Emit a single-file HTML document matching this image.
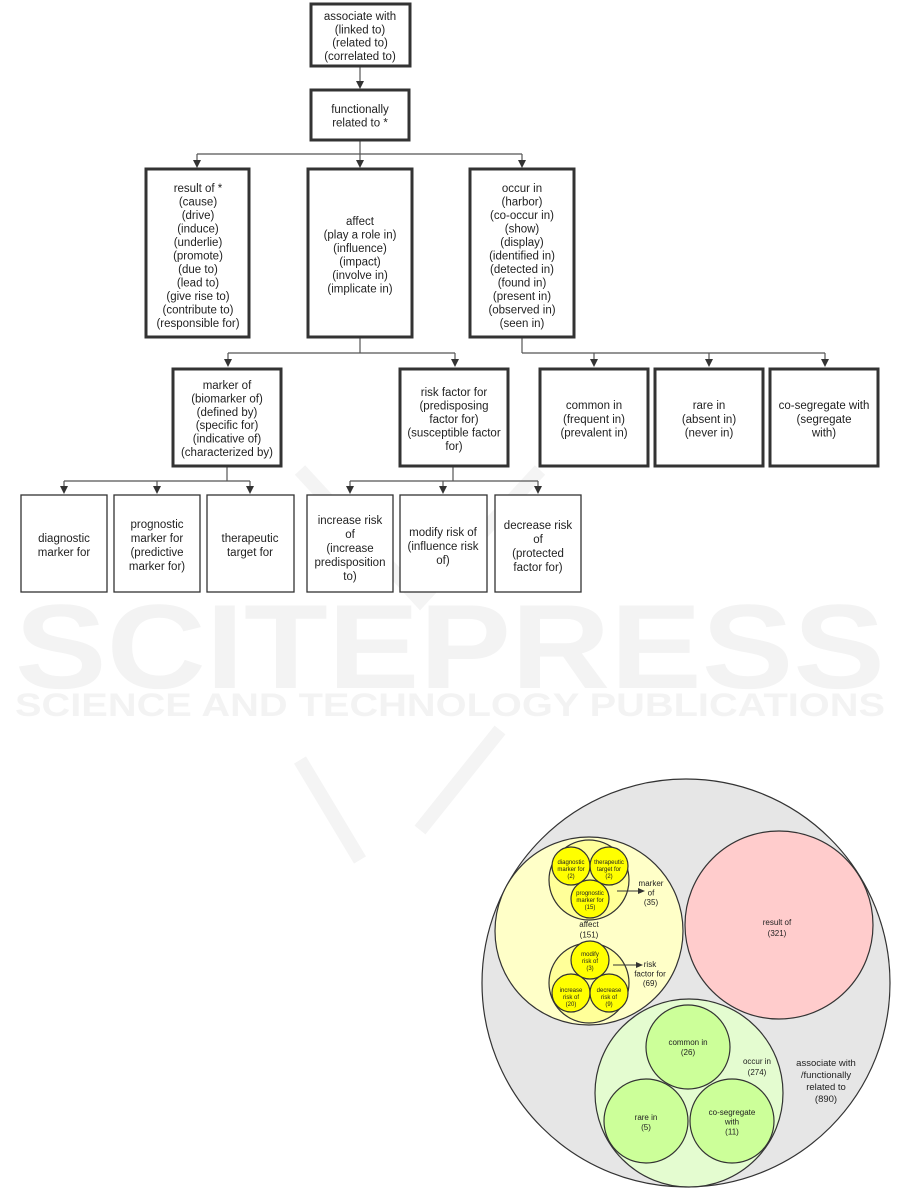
<!DOCTYPE html>
<html><head><meta charset="utf-8"><style>
html,body{margin:0;padding:0;background:#fff;}
svg{display:block;}
text{font-family:"Liberation Sans",sans-serif;fill:#222;}
</style></head><body>
<svg width="901" height="1191" viewBox="0 0 901 1191" xmlns="http://www.w3.org/2000/svg">

<!-- watermark -->
<g style="font-family:'Liberation Sans',sans-serif;font-weight:bold">
<text x="15" y="688" font-size="120" textLength="870" lengthAdjust="spacingAndGlyphs" style="fill:#f3f3f3">SCITEPRESS</text>
<text x="15" y="716" font-size="32" textLength="870" lengthAdjust="spacingAndGlyphs" style="fill:#f3f3f3">SCIENCE AND TECHNOLOGY PUBLICATIONS</text>
</g>
<path d="M300,470 L420,600 L540,470 M300,760 L360,860 M500,730 L420,830" stroke="#f4f4f4" stroke-width="14" fill="none"/>

<!-- connectors -->
<g stroke="#555" stroke-width="1.2" fill="none">
<line x1="360" y1="66" x2="360" y2="84"/>
<line x1="360" y1="140" x2="360" y2="154"/>
<line x1="197" y1="154" x2="522" y2="154"/>
<line x1="197" y1="154" x2="197" y2="162"/>
<line x1="360" y1="154" x2="360" y2="162"/>
<line x1="522" y1="154" x2="522" y2="162"/>
<line x1="360" y1="338" x2="360" y2="353"/>
<line x1="228" y1="353" x2="455" y2="353"/>
<line x1="228" y1="353" x2="228" y2="361"/>
<line x1="455" y1="353" x2="455" y2="361"/>
<line x1="522" y1="338" x2="522" y2="353"/>
<line x1="522" y1="353" x2="825" y2="353"/>
<line x1="594" y1="353" x2="594" y2="361"/>
<line x1="709" y1="353" x2="709" y2="361"/>
<line x1="825" y1="353" x2="825" y2="361"/>
<line x1="227" y1="467" x2="227" y2="481"/>
<line x1="64" y1="481" x2="250" y2="481"/>
<line x1="64" y1="481" x2="64" y2="488"/>
<line x1="157" y1="481" x2="157" y2="488"/>
<line x1="250" y1="481" x2="250" y2="488"/>
<line x1="453" y1="467" x2="453" y2="481"/>
<line x1="350" y1="481" x2="538" y2="481"/>
<line x1="350" y1="481" x2="350" y2="488"/>
<line x1="443" y1="481" x2="443" y2="488"/>
<line x1="538" y1="481" x2="538" y2="488"/>
</g>
<g fill="#333">
<polygon points="356,81 364,81 360,89"/>
<polygon points="193,160 201,160 197,168"/>
<polygon points="356,160 364,160 360,168"/>
<polygon points="518,160 526,160 522,168"/>
<polygon points="224,359 232,359 228,367"/>
<polygon points="451,359 459,359 455,367"/>
<polygon points="590,359 598,359 594,367"/>
<polygon points="705,359 713,359 709,367"/>
<polygon points="821,359 829,359 825,367"/>
<polygon points="60,486 68,486 64,494"/>
<polygon points="153,486 161,486 157,494"/>
<polygon points="246,486 254,486 250,494"/>
<polygon points="346,486 354,486 350,494"/>
<polygon points="439,486 447,486 443,494"/>
<polygon points="534,486 542,486 538,494"/>
</g>

<!-- thick boxes -->
<g fill="#fff" stroke="#333" stroke-width="3">
<rect x="311" y="4" width="99" height="62"/>
<rect x="311" y="90" width="98" height="50"/>
<rect x="146" y="169" width="103" height="168"/>
<rect x="308" y="169" width="104" height="168"/>
<rect x="470" y="169" width="104" height="168"/>
<rect x="173" y="369" width="108" height="97"/>
<rect x="400" y="369" width="108" height="97"/>
<rect x="540" y="369" width="108" height="97"/>
<rect x="655" y="369" width="108" height="97"/>
<rect x="770" y="369" width="108" height="97"/>
</g>
<g fill="#fff" stroke="#333" stroke-width="1.3">
<rect x="21" y="495" width="86" height="97"/>
<rect x="114" y="495" width="86" height="97"/>
<rect x="207" y="495" width="87" height="97"/>
<rect x="307" y="495" width="86" height="97"/>
<rect x="400" y="495" width="87" height="97"/>
<rect x="495" y="495" width="86" height="97"/>
</g>

<g font-size="11.5" text-anchor="middle">
<text x="360" y="20">associate with<tspan x="360" dy="13.3">(linked to)</tspan><tspan x="360" dy="13.3">(related to)</tspan><tspan x="360" dy="13.3">(correlated to)</tspan></text>
<text x="360" y="113">functionally<tspan x="360" dy="13.5">related to *</tspan></text>
<text x="198" y="192">result of *<tspan x="198" dy="13.5">(cause)</tspan><tspan x="198" dy="13.5">(drive)</tspan><tspan x="198" dy="13.5">(induce)</tspan><tspan x="198" dy="13.5">(underlie)</tspan><tspan x="198" dy="13.5">(promote)</tspan><tspan x="198" dy="13.5">(due to)</tspan><tspan x="198" dy="13.5">(lead to)</tspan><tspan x="198" dy="13.5">(give rise to)</tspan><tspan x="198" dy="13.5">(contribute to)</tspan><tspan x="198" dy="13.5">(responsible for)</tspan></text>
<text x="360" y="225">affect<tspan x="360" dy="13.5">(play a role in)</tspan><tspan x="360" dy="13.5">(influence)</tspan><tspan x="360" dy="13.5">(impact)</tspan><tspan x="360" dy="13.5">(involve in)</tspan><tspan x="360" dy="13.5">(implicate in)</tspan></text>
<text x="522" y="192">occur in<tspan x="522" dy="13.5">(harbor)</tspan><tspan x="522" dy="13.5">(co-occur in)</tspan><tspan x="522" dy="13.5">(show)</tspan><tspan x="522" dy="13.5">(display)</tspan><tspan x="522" dy="13.5">(identified in)</tspan><tspan x="522" dy="13.5">(detected in)</tspan><tspan x="522" dy="13.5">(found in)</tspan><tspan x="522" dy="13.5">(present in)</tspan><tspan x="522" dy="13.5">(observed in)</tspan><tspan x="522" dy="13.5">(seen in)</tspan></text>
<text x="227" y="389">marker of<tspan x="227" dy="13.4">(biomarker of)</tspan><tspan x="227" dy="13.4">(defined by)</tspan><tspan x="227" dy="13.4">(specific for)</tspan><tspan x="227" dy="13.4">(indicative of)</tspan><tspan x="227" dy="13.4">(characterized by)</tspan></text>
<text x="454" y="396">risk factor for<tspan x="454" dy="13.5">(predisposing</tspan><tspan x="454" dy="13.5">factor for)</tspan><tspan x="454" dy="13.5">(susceptible factor</tspan><tspan x="454" dy="13.5">for)</tspan></text>
<text x="594" y="409">common in<tspan x="594" dy="13.8">(frequent in)</tspan><tspan x="594" dy="13.8">(prevalent in)</tspan></text>
<text x="709" y="409">rare in<tspan x="709" dy="13.8">(absent in)</tspan><tspan x="709" dy="13.8">(never in)</tspan></text>
<text x="824" y="409">co-segregate with<tspan x="824" dy="13.8">(segregate</tspan><tspan x="824" dy="13.8">with)</tspan></text>
<text x="64" y="542">diagnostic<tspan x="64" dy="14">marker for</tspan></text>
<text x="157" y="528">prognostic<tspan x="157" dy="14">marker for</tspan><tspan x="157" dy="14">(predictive</tspan><tspan x="157" dy="14">marker for)</tspan></text>
<text x="250" y="542">therapeutic<tspan x="250" dy="14">target for</tspan></text>
<text x="350" y="524">increase risk<tspan x="350" dy="14">of</tspan><tspan x="350" dy="14">(increase</tspan><tspan x="350" dy="14">predisposition</tspan><tspan x="350" dy="14">to)</tspan></text>
<text x="443" y="536">modify risk of<tspan x="443" dy="14">(influence risk</tspan><tspan x="443" dy="14">of)</tspan></text>
<text x="538" y="529">decrease risk<tspan x="538" dy="14">of</tspan><tspan x="538" dy="14">(protected</tspan><tspan x="538" dy="14">factor for)</tspan></text>
</g>

<!-- circle diagram -->
<g stroke="#333" stroke-width="1.2">
<circle cx="686" cy="983" r="204" fill="#e6e6e6"/>
<circle cx="589" cy="931" r="94" fill="#ffffc8"/>
<circle cx="779" cy="925" r="94" fill="#ffcccc"/>
<circle cx="689" cy="1093" r="94" fill="#e4fcd0"/>
<circle cx="589" cy="880" r="40" fill="#ffff99"/>
<circle cx="589" cy="983" r="40" fill="#ffff99"/>
<circle cx="571" cy="866" r="19" fill="#ffff00"/>
<circle cx="609" cy="866" r="19" fill="#ffff00"/>
<circle cx="590" cy="899" r="19" fill="#ffff00"/>
<circle cx="590" cy="960" r="19" fill="#ffff00"/>
<circle cx="571" cy="993" r="19" fill="#ffff00"/>
<circle cx="609" cy="993" r="19" fill="#ffff00"/>
<circle cx="688" cy="1047" r="42" fill="#ccff99"/>
<circle cx="646" cy="1121" r="42" fill="#ccff99"/>
<circle cx="732" cy="1121" r="42" fill="#ccff99"/>
</g>
<g stroke="#333" stroke-width="1">
<line x1="617" y1="891" x2="640" y2="891"/>
<line x1="613" y1="965" x2="638" y2="965"/>
</g>
<g fill="#333">
<polygon points="638,888 645,891 638,894"/>
<polygon points="636,962 643,965 636,968"/>
</g>
<g text-anchor="middle" font-size="6">
<text x="571" y="864">diagnostic<tspan x="571" dy="7">marker for</tspan><tspan x="571" dy="7">(2)</tspan></text>
<text x="609" y="864">therapeutic<tspan x="609" dy="7">target for</tspan><tspan x="609" dy="7">(2)</tspan></text>
<text x="590" y="895">prognostic<tspan x="590" dy="7">marker for</tspan><tspan x="590" dy="7">(15)</tspan></text>
<text x="590" y="956">modify<tspan x="590" dy="7">risk of</tspan><tspan x="590" dy="7">(3)</tspan></text>
<text x="571" y="992">increase<tspan x="571" dy="7">risk of</tspan><tspan x="571" dy="7">(20)</tspan></text>
<text x="609" y="992">decrease<tspan x="609" dy="7">risk of</tspan><tspan x="609" dy="7">(9)</tspan></text>
</g>
<g text-anchor="middle" font-size="8">
<text x="651" y="886">marker<tspan x="651" dy="9.5">of</tspan><tspan x="651" dy="9.5">(35)</tspan></text>
<text x="589" y="927">affect<tspan x="589" dy="10.5">(151)</tspan></text>
<text x="650" y="967">risk<tspan x="650" dy="9.5">factor for</tspan><tspan x="650" dy="9.5">(69)</tspan></text>
<text x="777" y="925">result of<tspan x="777" dy="11">(321)</tspan></text>
<text x="688" y="1045">common in<tspan x="688" dy="10">(26)</tspan></text>
<text x="646" y="1120">rare in<tspan x="646" dy="10">(5)</tspan></text>
<text x="732" y="1115">co-segregate<tspan x="732" dy="9.5">with</tspan><tspan x="732" dy="10">(11)</tspan></text>
<text x="757" y="1064">occur in<tspan x="757" dy="11">(274)</tspan></text>
</g>
<g text-anchor="middle" font-size="9.5">
<text x="826" y="1066">associate with<tspan x="826" dy="12">/functionally</tspan><tspan x="826" dy="12">related to</tspan><tspan x="826" dy="12">(890)</tspan></text>
</g>
</svg>
</body></html>
